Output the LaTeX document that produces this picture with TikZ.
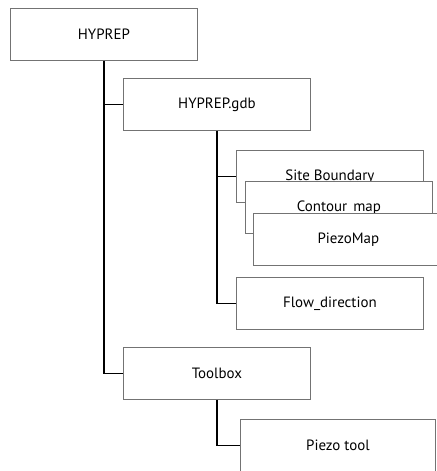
\documentclass[tikz,border=0pt]{standalone}
\usepackage{fontspec}
\setmainfont{PT Sans}
\begin{document}
\begin{tikzpicture}[x=1bp,y=-1bp,
  box/.style={draw=black!55,line width=0.8bp,fill=white,rectangle,anchor=north west,
    minimum width=187bp,minimum height=52bp,inner sep=0pt,font=\fontsize{15}{17}\selectfont},
  link/.style={draw=black,line width=1.4bp}]
     		\useasboundingbox (0,0) rectangle (437,471);
     		\clip (0,0) rectangle (437,471);
     		\node[box] (hyprep) at (10,8) {HYPREP};
     		\node[box] (gdb) at (123,78) {HYPREP.gdb};
     		\node[box] (site) at (236,150) {Site Boundary};
     		\node[box] (contour) at (245,181) {Contour\_map};
     		\node[box,minimum width=190bp] (piezomap) at (253,213) {PiezoMap};
     		\node[box] (flow) at (236,277) {Flow\_direction};
     		\node[box] (toolbox) at (123,347) {Toolbox};
     		\node[box,minimum width=195bp] (piezotool) at (240,419) {Piezo tool};
     		\draw[link] (hyprep.south) |- (gdb.west);
     		\draw[link] (hyprep.south) |- (toolbox.west);
     		\draw[link] (gdb.south) |- (site.west);
     		\draw[link] (gdb.south) |- (flow.west);
     		\draw[link] (toolbox.south) |- (piezotool.west);
\end{tikzpicture}
\end{document}
